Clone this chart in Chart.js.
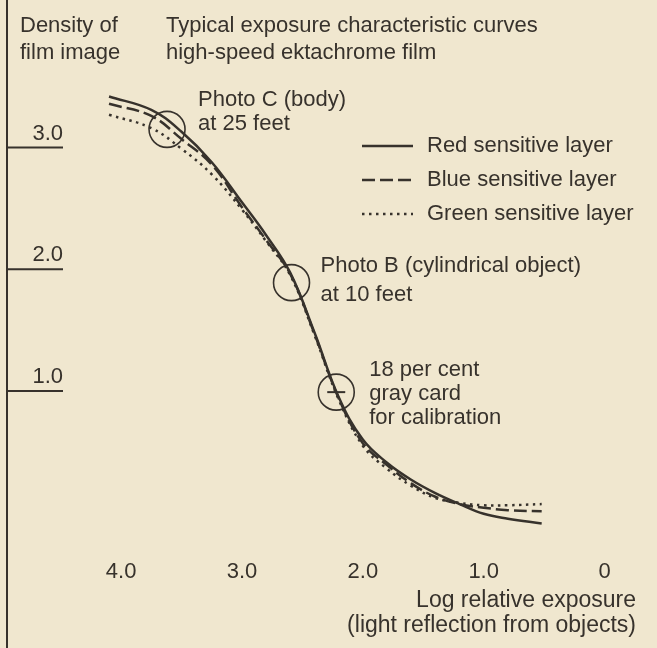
<!DOCTYPE html>
<html>
<head>
<meta charset="utf-8">
<script src="https://cdn.jsdelivr.net/npm/chart.js@4/dist/chart.umd.min.js"></script>
<style>
  html, body { margin: 0; padding: 0; background: #f0e7cf; }
  #wrap { width: 657px; height: 648px; }
</style>
</head>
<body>
<div id="wrap"><canvas id="curveChart" width="657" height="648"></canvas></div>
<script>
// =============== Data
const exposure   = [4.1, 3.75, 3.5, 3.25, 3.0, 2.8, 2.6, 2.4, 2.2, 2.0, 1.8, 1.6, 1.4, 1.2, 1.0, 0.8, 0.52];
const redLayer   = [3.42, 3.31, 3.13, 2.88, 2.55, 2.28, 1.97, 1.48, 0.95, 0.60, 0.41, 0.27, 0.16, 0.07, -0.01, -0.05, -0.09];
const blueLayer  = [3.36, 3.26, 3.07, 2.86, 2.51, 2.24, 1.96, 1.47, 0.94, 0.57, 0.39, 0.24, 0.13, 0.07, 0.04, 0.02, 0.01];
const greenLayer = [3.27, 3.16, 2.99, 2.78, 2.49, 2.23, 1.95, 1.46, 0.93, 0.55, 0.36, 0.22, 0.12, 0.08, 0.06, 0.06, 0.07];

const xTicks = [4, 3, 2, 1, 0];
const xTickLabels = ['4.0', '3.0', '2.0', '1.0', '0'];
const yTicks = [3, 2, 1];
const yTickLabels = ['3.0', '2.0', '1.0'];

const markerExposure = [3.62, 2.59, 2.22];
const markerDensity  = [3.15, 1.89, 0.99];
const markerNotes = [
    ['Photo C (body)', 'at 25 feet'],
    ['Photo B (cylindrical object)', 'at 10 feet'],
    ['18 per cent', 'gray card', 'for calibration']
];

const INK = '#37322c';
const FONT = '22px "Liberation Sans", Arial, sans-serif';
const DASHES = [[], [13, 5], [2.5, 4.5]];

function pts(ys) {
    return exposure.map((x, i) => ({ x: x, y: ys[i] }));
}

// =============== Texts, axis and legend
const decor = {
    id: 'decor',
    beforeDraw(chart) {
        const c = chart.ctx;
        c.save();
        c.fillStyle = '#f0e7cf';
        c.fillRect(0, 0, chart.width, chart.height);
        c.restore();
    },
    afterDraw(chart) {
        const c = chart.ctx;
        const sx = chart.scales.x, sy = chart.scales.y;
        c.save();
        c.fillStyle = INK;
        c.strokeStyle = INK;
        c.font = FONT;
        c.textBaseline = 'middle';

        // vertical axis line
        c.lineWidth = 2;
        c.beginPath();
        c.moveTo(7, 0);
        c.lineTo(7, chart.height);
        c.stroke();

        // y ticks: short line with label above
        c.textAlign = 'right';
        yTicks.forEach((v, i) => {
            const py = sy.getPixelForValue(v);
            c.beginPath();
            c.moveTo(7, py);
            c.lineTo(63, py);
            c.stroke();
            c.fillText(yTickLabels[i], 63, py - 14);
        });

        // x tick labels
        c.textAlign = 'center';
        xTicks.forEach((v, i) => {
            c.fillText(xTickLabels[i], sx.getPixelForValue(v), 572);
        });

        // axis titles
        c.textAlign = 'right';
        c.font = '23px "Liberation Sans", Arial, sans-serif';
        c.fillText('Log relative exposure', 636, 601);
        c.fillText('(light reflection from objects)', 636, 626);
        c.font = FONT;
        c.textAlign = 'left';
        c.fillText('Density of', 20, 26);
        c.fillText('film image', 20, 53);
        c.fillText('Typical exposure characteristic curves', 166, 26);
        c.fillText('high-speed ektachrome film', 166, 53);

        // legend
        chart.data.datasets.slice(0, 3).forEach((ds, i) => {
            const ly = 146 + i * 34;
            c.save();
            c.lineWidth = 2.5;
            c.setLineDash(DASHES[i]);
            c.beginPath();
            c.moveTo(362, ly);
            c.lineTo(413, ly);
            c.stroke();
            c.restore();
            c.fillText(ds.label, 427, ly);
        });

        // notes next to the circles
        const offsets = [[31, -29], [29, -17], [33, -22]];
        markerNotes.forEach((lines, i) => {
            const px = sx.getPixelForValue(markerExposure[i]) + offsets[i][0];
            const py = sy.getPixelForValue(markerDensity[i]) + offsets[i][1];
            lines.forEach((t, k) => c.fillText(t, px, py + k * (i === 1 ? 29 : 24)));
        });

        // small cross bar in the gray card circle
        const gx = sx.getPixelForValue(markerExposure[2]);
        const gy = sy.getPixelForValue(markerDensity[2]);
        c.lineWidth = 2;
        c.beginPath();
        c.moveTo(gx - 9, gy);
        c.lineTo(gx + 9, gy);
        c.stroke();
        c.restore();
    }
};

// =============== Courbes
const curve_chart = document.getElementById('curveChart');

new Chart(curve_chart, {
    type: 'line',
    data: {
        datasets: [
            { label: 'Red sensitive layer', data: pts(redLayer), borderColor: INK, borderWidth: 2.5, tension: 0.4, pointRadius: 0 },
            { label: 'Blue sensitive layer', data: pts(blueLayer), borderColor: INK, borderWidth: 2.5, borderDash: DASHES[1], tension: 0.4, pointRadius: 0 },
            { label: 'Green sensitive layer', data: pts(greenLayer), borderColor: INK, borderWidth: 2.5, borderDash: DASHES[2], tension: 0.4, pointRadius: 0 },
            {
                label: 'markers',
                data: markerExposure.map((x, i) => ({ x: x, y: markerDensity[i] })),
                showLine: false, pointRadius: 18, pointBorderWidth: 1.6,
                pointBorderColor: INK, pointBackgroundColor: 'rgba(0,0,0,0)'
            }
        ]
    },
    options: {
        responsive: false,
        animation: false,
        layout: { padding: 0 },
        plugins: { legend: { display: false }, tooltip: { enabled: false } },
        scales: {
            x: { type: 'linear', reverse: true, min: -0.272, max: 4.84, display: false },
            y: { type: 'linear', min: -0.952, max: 4.052, display: false }
        }
    },
    plugins: [decor]
});
</script>
</body>
</html>
